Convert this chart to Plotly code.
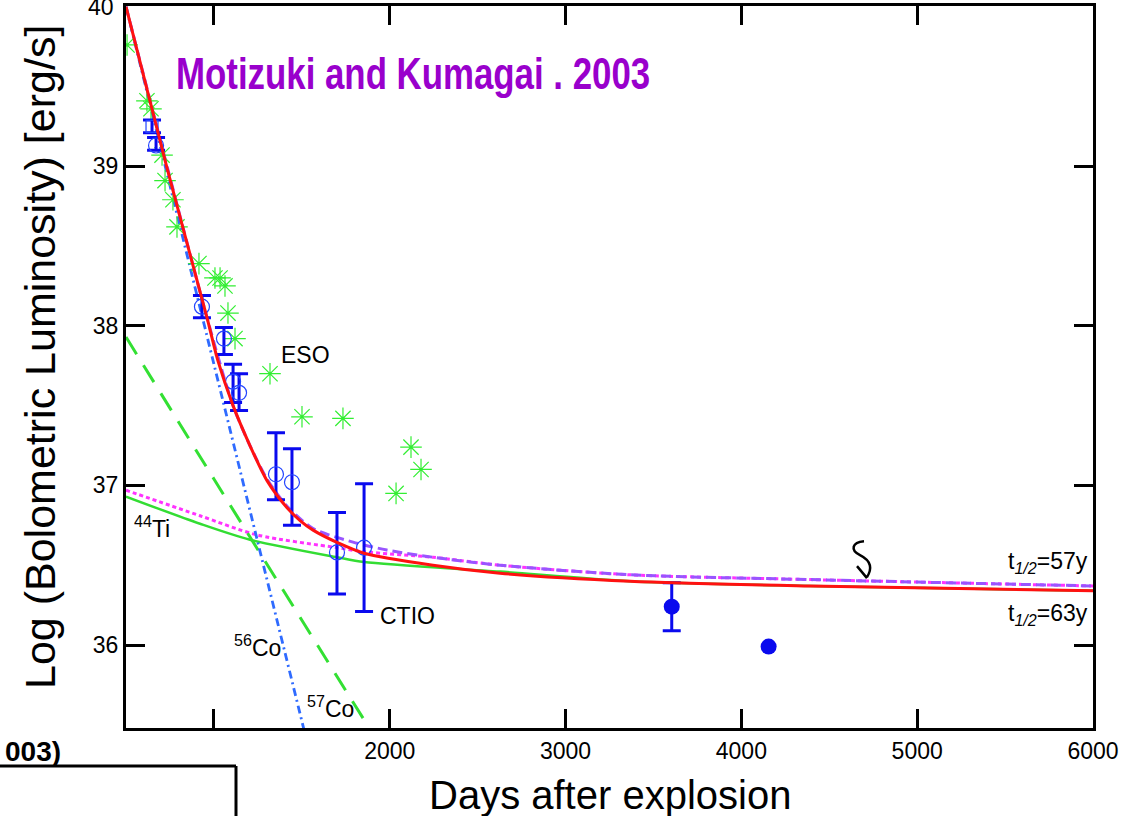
import plotly.graph_objects as go

# ---------------- data ----------------
# ESO bolometric points (green asterisks)
eso_day = [506, 619, 642, 705, 722, 767, 790, 915, 1006, 1035, 1063, 1080, 1120,
           1319, 1501, 1734, 2036, 2121, 2178]
eso_lum = [39.76, 39.41, 39.36, 39.07, 38.91, 38.79, 38.62, 38.39, 38.30, 38.30, 38.25,
           38.08, 37.92, 37.70, 37.43, 37.42, 36.95, 37.24, 37.10]

# CTIO points with error bars (first one drawn as a square)
ctio_sq_day = [648]
ctio_sq_lum = [39.25]
ctio_sq_hi = [39.29]
ctio_sq_lo = [39.21]

ctio_day = [671, 932, 1057, 1109, 1143, 1353, 1444, 1700, 1854]
ctio_lum = [39.13, 38.12, 37.92, 37.65, 37.58, 37.07, 37.02, 36.58, 36.61]
ctio_hi = [39.18, 38.19, 37.99, 37.76, 37.70, 37.33, 37.23, 36.83, 37.01]
ctio_lo = [39.10, 38.05, 37.82, 37.52, 37.47, 36.91, 36.75, 36.32, 36.21]

# late-time points (filled)
late_err_day = [3604]
late_err_lum = [36.24]
late_err_hi = [36.39]
late_err_lo = [36.09]
late_day = [4155]
late_lum = [35.99]

# model curves
total63_day = [500, 733, 961, 1023, 1109, 1205, 1302, 1416, 1490, 1564, 1706, 1854,
               2246, 2627, 3367, 4391, 6000]
total63_lum = [40.00, 38.99, 38.05, 37.78, 37.50, 37.25, 37.03, 36.86, 36.78, 36.72,
               36.64, 36.575, 36.50, 36.45, 36.40, 36.37, 36.34]

total57_day = [500, 961, 1109, 1205, 1302, 1416, 1564, 1791, 1984, 2246, 2627, 3367,
               4391, 6000]
total57_lum = [40.00, 38.05, 37.50, 37.25, 37.04, 36.87, 36.73, 36.645, 36.595, 36.55,
               36.50, 36.44, 36.41, 36.37]

ti57_day = [500, 921, 1245, 1700, 1848, 2246, 2627, 3367, 4391, 6000]
ti57_lum = [36.97, 36.81, 36.69, 36.61, 36.585, 36.55, 36.50, 36.44, 36.41, 36.37]

ti63_day = [500, 921, 1205, 1700, 1854, 2627, 3367, 4391, 6000]
ti63_lum = [36.93, 36.76, 36.66, 36.55, 36.52, 36.46, 36.40, 36.37, 36.34]

co56_day = [500, 1000, 1530]
co56_lum = [40.00, 37.76, 35.39]

co57_day = [500, 1000, 1900]
co57_lum = [37.93, 37.04, 35.45]

x_ticks = [1000, 2000, 3000, 4000, 5000, 6000]
x_ticktext = ["", "2000", "3000", "4000", "5000", "6000"]
y_ticks = [36, 37, 38, 39, 40]
y_ticktext = ["36", "37", "38", "39", ""]   # the top label is placed separately
y_top_label = "40"

# ---------------- geometry ----------------
W, H = 1124, 816
X0, X1 = 500, 6000
Y0, Y1 = 35.48, 40.0
PX_L, PX_R, PX_T, PX_B = 126, 1093, 6, 728


def px_day(px):
    return X0 + (px - PX_L) * (X1 - X0) / (PX_R - PX_L)


def px_lum(py):
    return Y1 - (py - PX_T) * (Y1 - Y0) / (PX_B - PX_T)


def paper_x(px):
    return (px - PX_L) / (PX_R - PX_L)


def paper_y(py):
    return (PX_B - py) / (PX_B - PX_T)


FONT = "Liberation Sans, Arial, Helvetica, sans-serif"
BLUE = "#0a0aee"
GREEN_STAR = "#33ee33"

fig = go.Figure()


def curve(xs, ys, color, width, dash="solid"):
    fig.add_trace(go.Scatter(
        x=xs, y=ys, mode="lines", hoverinfo="skip",
        line=dict(color=color, width=width, dash=dash, shape="spline", smoothing=0.8),
    ))


curve(ti63_day, ti63_lum, "#33dd33", 2.5)
curve(ti57_day, ti57_lum, "#ff33ff", 3, "4px,3px")
curve(total57_day, total57_lum, "#9955ff", 3, "10px,5px")
curve(co57_day, co57_lum, "#33e033", 3, "20px,13px")
curve(co56_day, co56_lum, "#2f6bff", 2.8, "8px,4px,2px,4px")

# ESO asterisks
fig.add_trace(go.Scatter(
    x=eso_day, y=eso_lum, mode="markers",
    marker=dict(symbol="asterisk-open", size=18, color=GREEN_STAR,
                line=dict(color=GREEN_STAR, width=1.2)),
))


def errors(vals, hi, lo):
    return ([h - v for v, h in zip(vals, hi)], [v - l for v, l in zip(vals, lo)])


err_style = dict(type="data", color=BLUE, thickness=3, width=9)

up, dn = errors(ctio_sq_lum, ctio_sq_hi, ctio_sq_lo)
fig.add_trace(go.Scatter(
    x=ctio_sq_day, y=ctio_sq_lum, mode="markers",
    marker=dict(symbol="square-open", size=12, color="#2244ff", line=dict(width=1.2)),
    error_y=dict(array=up, arrayminus=dn, **err_style),
))

up, dn = errors(ctio_lum, ctio_hi, ctio_lo)
fig.add_trace(go.Scatter(
    x=ctio_day, y=ctio_lum, mode="markers",
    marker=dict(symbol="circle-open", size=15, color="#2244ff", line=dict(width=1.2)),
    error_y=dict(array=up, arrayminus=dn, **err_style),
))

up, dn = errors(late_err_lum, late_err_hi, late_err_lo)
fig.add_trace(go.Scatter(
    x=late_err_day, y=late_err_lum, mode="markers",
    marker=dict(symbol="circle", size=16, color=BLUE),
    error_y=dict(array=up, arrayminus=dn, **err_style),
))
fig.add_trace(go.Scatter(
    x=late_day, y=late_lum, mode="markers",
    marker=dict(symbol="circle", size=16, color=BLUE),
))

# total model on top
curve(total63_day, total63_lum, "#ff1111", 3)

# ---------------- annotations ----------------
ann = []


def label(px, py, text, size=21, xanchor="center"):
    ann.append(dict(x=px_day(px), y=px_lum(py), xref="x", yref="y", text=text,
                    showarrow=False, font=dict(family=FONT, size=size, color="black"),
                    xanchor=xanchor, yanchor="middle"))


label(305, 355, "ESO", 23)
label(407, 616, "CTIO", 23)
label(152, 527, "<sup>44</sup>Ti", 23)
label(257, 646, "<sup>56</sup>Co", 23)
label(330, 707, "<sup>57</sup>Co", 23)
label(1090, 562, "t<sub><i>1/2</i></sub>=57y", 23, xanchor="right")
label(1090, 614, "t<sub><i>1/2</i></sub>=63y", 23, xanchor="right")

# top tick label of the luminosity axis
ann.append(dict(x=0, y=Y1, xref="paper", yref="y", text=y_top_label,
                showarrow=False, xanchor="right", yanchor="middle", xshift=-10,
                font=dict(family=FONT, size=23, color="black")))

ann.append(dict(x=paper_x(174), y=paper_y(73), xref="paper", yref="paper",
                text="<b>Motizuki and Kumagai . 2003</b>", showarrow=False,
                xanchor="left", yanchor="middle",
                font=dict(family=FONT, size=43, color="#9900cc")))

ann.append(dict(x=paper_x(610), y=paper_y(795), xref="paper", yref="paper",
                text="Days after explosion", showarrow=False,
                xanchor="center", yanchor="middle",
                font=dict(family=FONT, size=40, color="black")))

ann.append(dict(x=paper_x(40), y=paper_y(357), xref="paper", yref="paper",
                text="Log (Bolometric Luminosity) [erg/s]", showarrow=False,
                textangle=-90, xanchor="center", yanchor="middle",
                font=dict(family=FONT, size=43, color="black")))

ann.append(dict(x=paper_x(63), y=paper_y(751), xref="paper", yref="paper",
                text="<b>003)</b>", showarrow=False, xanchor="right", yanchor="middle",
                font=dict(family=FONT, size=28, color="black")))


# ---------------- shapes ----------------
def path_from_px(points):
    parts = []
    for cmd, pts in points:
        coords = " ".join(f"{px_day(x):.2f},{px_lum(y):.4f}" for x, y in pts)
        parts.append(f"{cmd} {coords}")
    return " ".join(parts)


squiggle = path_from_px([
    ("M", [(864, 541)]),
    ("C", [(852, 542), (850, 550), (860, 555)]),
    ("C", [(872, 561), (872, 569), (867, 577)]),
    ("M", [(857, 566)]),
    ("L", [(867, 578), (876, 565)]),
])

shapes = [
    dict(type="path", path=squiggle, xref="x", yref="y",
         line=dict(color="black", width=2.5)),
    dict(type="line", xref="paper", yref="paper",
         x0=paper_x(-5), x1=paper_x(236), y0=paper_y(766), y1=paper_y(766),
         line=dict(color="black", width=3)),
    dict(type="line", xref="paper", yref="paper",
         x0=paper_x(236), x1=paper_x(236), y0=paper_y(766), y1=paper_y(820),
         line=dict(color="black", width=3)),
]

axis_common = dict(showline=True, linecolor="black", linewidth=3, mirror="allticks",
                   ticks="inside", ticklen=19, tickwidth=3, tickcolor="black",
                   showgrid=False, zeroline=False, automargin=False,
                   tickfont=dict(family=FONT, size=23, color="black"))

fig.update_layout(
    width=W, height=H, autosize=False,
    margin=dict(l=PX_L, r=W - PX_R, t=PX_T, b=H - PX_B),
    plot_bgcolor="white", paper_bgcolor="white",
    showlegend=False,
    annotations=ann, shapes=shapes,
    xaxis=dict(range=[X0, X1], tickvals=x_ticks, ticktext=x_ticktext, **axis_common),
    yaxis=dict(range=[Y0, Y1 + 0.004], tickvals=y_ticks, ticktext=y_ticktext,
               **axis_common),
)

# the heading is set in a condensed face: squeeze it horizontally about its left edge
condense_title = """
(function () {
  var gd = document.querySelector('.plotly-graph-div');
  function squeeze() {
    document.querySelectorAll('text.annotation-text').forEach(function (t) {
      if (t.textContent.indexOf('Motizuki') === 0) {
        var b = t.getBBox();
        var cy = b.y + b.height / 2;
        t.setAttribute('transform',
          'translate(' + b.x + ',' + cy + ') scale(0.81,1.05) translate(' + (-b.x) + ',' + (-cy) + ')');
      }
    });
  }
  squeeze();
  if (gd && gd.on) { gd.on('plotly_afterplot', squeeze); }
})();
"""

fig.write_html("out.html", post_script=condense_title)
